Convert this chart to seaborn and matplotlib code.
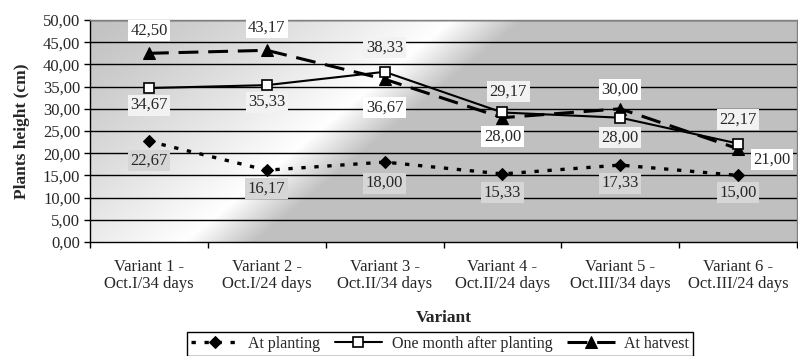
import numpy as np
import pandas as pd
import matplotlib
matplotlib.use("Agg")
import matplotlib.pyplot as plt
import seaborn as sns
from matplotlib.ticker import FuncFormatter, FixedLocator

# ---- data ----
variants = ["Variant 1 -\nOct.I/34 days", "Variant 2 -\nOct.I/24 days",
            "Variant 3 -\nOct.II/34 days", "Variant 4 -\nOct.II/24 days",
            "Variant 5 -\nOct.III/34 days", "Variant 6 -\nOct.III/24 days"]
at_planting = [22.67, 16.17, 18.00, 15.33, 17.33, 15.00]
one_month = [34.67, 35.33, 38.33, 29.17, 28.00, 22.17]
at_harvest = [42.50, 43.17, 36.67, 28.00, 30.00, 21.00]
series_names = ["At planting", "One month after planting", "At hatvest"]

# label offsets in pixels (dx, dy) for each point of each series
off_planting = [(0, -19), (0, -18), (0, -21), (0, -19), (0, -18), (0, -17)]
off_month = [(0, -17), (0, -17), (0, 24), (6, 21), (0, -20), (0, 24)]
off_harvest = [(0, 23), (0, 23), (0, -28), (0, -19), (0, 19), (34, -11)]

sns.set_theme(style="white")
plt.rcParams["font.family"] = ["Liberation Serif", "DejaVu Serif"]
plt.rcParams["font.size"] = 12

W, H, DPI = 798, 356, 100
fig = plt.figure(figsize=(W / DPI, H / DPI), dpi=DPI)
L, R, T, B = 90, 797, 20, 242
ax = fig.add_axes([L / W, (H - B) / H, (R - L) / W, (B - T) / H])

# shiny gray backdrop
xs = np.arange(L, R) + 0.5
ys = np.arange(T, B) + 0.5
X, Y = np.meshgrid(xs, ys)
u = 0.638 * X + 0.77 * Y
peak = 304.0
left = np.clip((u - 60.0) / (peak - 60.0), 0, 1) ** 1.3
right = np.clip(1 - (u - peak) / 45.0, 0, 1)
t = np.where(u < peak, left, right)
val = (192 + 63 * t) / 255.0
img = np.dstack([val, val, val])
ax.imshow(img, extent=(0, 1, 0, 1), transform=ax.transAxes, aspect="auto",
          origin="upper", zorder=0, interpolation="bilinear")

df = pd.DataFrame({"variant": variants, series_names[0]: at_planting,
                   series_names[1]: one_month, series_names[2]: at_harvest})

sns.lineplot(data=df, x="variant", y=series_names[0], ax=ax, color="black",
             linestyle=(0, (1.3, 2.6)), lw=2.4, marker="D", markersize=6,
             markerfacecolor="black", markeredgecolor="black",
             label=series_names[0], zorder=4)
sns.lineplot(data=df, x="variant", y=series_names[1], ax=ax, color="black",
             linestyle="-", lw=1.5, marker="s", markersize=7.5,
             markerfacecolor="white", markeredgecolor="black", markeredgewidth=1.2,
             label=series_names[1], zorder=5)
sns.lineplot(data=df, x="variant", y=series_names[2], ax=ax, color="black",
             linestyle=(0, (6.5, 3.2)), lw=2.2, marker="^", markersize=8.5,
             markerfacecolor="black", markeredgecolor="black",
             label=series_names[2], zorder=4)

def put_labels(values, offsets, face):
    for i, (v, (dx, dy)) in enumerate(zip(values, offsets)):
        ax.annotate(f"{v:.2f}".replace(".", ","), xy=(i, v), xytext=(dx, dy),
                    textcoords="offset pixels", ha="center", va="center",
                    fontsize=12, zorder=6,
                    bbox=dict(boxstyle="square,pad=0.15", fc=face, ec="none"))

put_labels(at_planting, off_planting, "#d6d6d6")
put_labels(one_month, off_month, "#f2f2f2")
put_labels(at_harvest, off_harvest, "white")

ax.set_xlim(-0.5, len(variants) - 0.5)
ax.set_ylim(0, 50)
ax.yaxis.set_major_locator(FixedLocator(np.arange(0, 50.1, 5)))
ax.yaxis.set_major_formatter(FuncFormatter(lambda v, p: f"{v:.2f}".replace(".", ",")))
for yv in np.arange(5, 50.1, 5):
    ax.axhline(yv, color="black", lw=1.0, zorder=1)

ax.set_xticks(range(len(variants)))
ax.set_xticklabels(variants, linespacing=1.1)
ax.set_xticks(np.arange(-0.5, len(variants), 1.0), minor=True)
ax.tick_params(axis="x", which="major", length=0, pad=12, labelsize=12)
ax.tick_params(axis="x", which="minor", length=4, width=1, color="black", direction="out")
ax.tick_params(axis="y", which="major", length=4, width=1, color="black",
               direction="out", pad=3, labelsize=12)
ax.tick_params(left=True, bottom=True, which="both")

for side in ["left", "bottom"]:
    ax.spines[side].set_color("black")
    ax.spines[side].set_linewidth(1.0)
for side in ["top", "right"]:
    ax.spines[side].set_color("#808080")
    ax.spines[side].set_linewidth(1.0)

ax.set_xlabel("Variant", fontweight="bold", fontsize=12.5, labelpad=13)
ax.set_ylabel("Plants height (cm)", fontweight="bold", fontsize=12.5, labelpad=9)

ax.legend(loc="upper center", bbox_to_anchor=(440 / W, (H - 332) / H),
          bbox_transform=fig.transFigure, ncol=3, frameon=True, fancybox=False,
          edgecolor="black", framealpha=1, fontsize=11.5, handlelength=3.0,
          columnspacing=0.9, handletextpad=0.6, borderpad=0.25, borderaxespad=0)
leg = ax.get_legend()
leg.get_frame().set_linewidth(1.0)

fig.savefig("out.png", dpi=DPI)
